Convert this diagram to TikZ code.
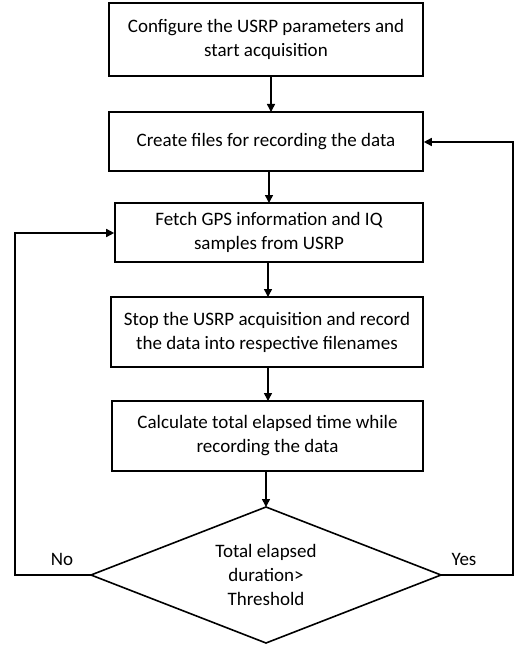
\documentclass[tikz,border=0pt]{standalone}
\usepackage{fontspec}
\setmainfont{Carlito}
\usetikzlibrary{arrows.meta}
\begin{document}
\begin{tikzpicture}[x=1pt,y=-1pt,
  box/.style={draw,line width=1.6pt,inner sep=0pt},
  lbl/.style={font=\fontsize{19}{24}\selectfont,align=center},
  conn/.style={line width=1.5pt,-{Triangle[length=8pt,width=8pt]}}]
\useasboundingbox (0,0) rectangle (518,650);
\node[box,minimum width=314pt,minimum height=73pt] (b1) at (266,39.5) {};
\node[lbl] at (b1) {Configure the USRP parameters and\\start acquisition};
\node[box,minimum width=314pt,minimum height=59pt] (b2) at (266,141.5) {};
\node[lbl] at (b2) {Create files for recording the data};
\node[box,minimum width=308pt,minimum height=59pt] (b3) at (269,232.5) {};
\node[lbl] at (b3) {Fetch GPS information and IQ\\samples from USRP};
\node[box,minimum width=312pt,minimum height=70pt] (b4) at (267,332) {};
\node[lbl] at (b4) {Stop the USRP acquisition and record\\the data into respective filenames};
\node[box,minimum width=311pt,minimum height=70pt] (b5) at (267.5,436) {};
\node[lbl] at (b5) {Calculate total elapsed time while\\recording the data};
\coordinate (dT) at (266,507);
\coordinate (dL) at (91,575);
\coordinate (dR) at (441,575);
\coordinate (dB) at (266,643);
\draw[line width=1.6pt,line join=miter] (dT) -- (dR) -- (dB) -- (dL) -- cycle;
\node[lbl] (dtext) at (266,575) {Total elapsed\\duration>\\Threshold};
\draw[conn] (271,76) -- (271,112);
\draw[conn] (269,171) -- (269,203);
\draw[conn] (268,262) -- (268,297);
\draw[conn] (268,367) -- (268,401);
\draw[conn] (266,471) -- (dT);
\coordinate (lc1) at (15,575);
\coordinate (lc2) at (15,233);
\coordinate (rc1) at (513,575);
\coordinate (rc2) at (513,142);
\draw[conn] (dL) -- (lc1) -- (lc2) -- (lc2 -| b3.west);
\draw[conn] (dR) -- (rc1) -- (rc2) -- (rc2 -| b2.east);
\node[lbl] (no) at (62,559) {No};
\node[lbl] (yes) at (464,559) {Yes};
\end{tikzpicture}
\end{document}
